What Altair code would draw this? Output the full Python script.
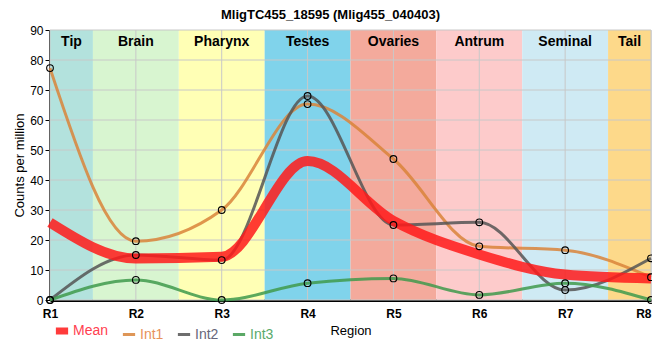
import altair as alt
import pandas as pd

regions = ["R1", "R2", "R3", "R4", "R5", "R6", "R7", "R8"]
series_names = ["Mean", "Int1", "Int2", "Int3"]
mean_vals = [25.8, 13.8, 14.4, 46.3, 26.4, 15.2, 8.5, 7.2]
int1_vals = [77.3, 19.6, 30.0, 65.3, 47.0, 17.9, 16.6, 7.6]
int2_vals = [0.0, 15.0, 13.3, 68.0, 25.0, 25.9, 3.3, 13.9]
int3_vals = [0.0, 6.7, 0.0, 5.6, 7.2, 1.7, 5.6, 0.0]

band_names = ["Tip", "Brain", "Pharynx", "Testes", "Ovaries", "Antrum", "Seminal", "Tail"]
band_start = [0, 0.5, 1.5, 2.5, 3.5, 4.5, 5.5, 6.5]
band_end = [0.5, 1.5, 2.5, 3.5, 4.5, 5.5, 6.5, 7]
band_colors = ["#b3e2dd", "#d8f5d0", "#ffffb5", "#80d3eb", "#f4aa9c", "#fdcbcb", "#cfeaf4", "#fdd98a"]

series_colors = ["#ff1a1a", "#d9843a", "#555555", "#3f9a4c"]
label_colors = ["#ff4050", "#e8925a", "#66667a", "#5aaa6c"]

y_ticks = list(range(0, 91, 10))
x_ticks = list(range(len(regions)))
y_min, y_max = 0, 90

rows = []
for name, vals in zip(series_names, [mean_vals, int1_vals, int2_vals, int3_vals]):
    for i, v in enumerate(vals):
        rows.append({"series": name, "idx": i, "region": regions[i], "value": v})
df = pd.DataFrame(rows)

bands = pd.DataFrame({
    "band": band_names, "start": band_start, "end": band_end,
    "mid": [(a + b) / 2 for a, b in zip(band_start, band_end)],
    "fillc": band_colors, "y0": y_min, "y1": y_max,
})

xscale = alt.Scale(domain=[0, 7], nice=False, zero=False)
yscale = alt.Scale(domain=[y_min, y_max], nice=False)

x_axis = alt.Axis(values=x_ticks, labelExpr="'R' + (datum.value + 1)", grid=False,
                  ticks=False, labelFontWeight="bold", labelFontSize=12, labelColor="black",
                  labelPadding=8, domainColor="black", domainWidth=3, labelOverlap=False,
                  labelFlush=False,
                  labelAlign=alt.expr("datum.value == 7 ? 'right' : 'center'"),
                  title="Region", titleFontSize=13, titleFontWeight="normal",
                  titleColor="black", titlePadding=5)
y_axis = alt.Axis(values=y_ticks, grid=False, tickSize=5, tickColor="black",
                  labelFontSize=12, labelColor="black", labelPadding=2, labelOverlap=False,
                  labelFlush=False, domainColor="black", domainWidth=3,
                  title="Counts per million", titleFontSize=13,
                  titleFontWeight="normal", titleColor="black", titlePadding=3)

X = lambda f: alt.X(f, scale=xscale, axis=x_axis, title="Region")
Y = lambda f: alt.Y(f, scale=yscale, axis=y_axis, title="Counts per million")

band_layer = alt.Chart(bands).mark_rect().encode(
    x=X("start:Q"), x2="end:Q", y=Y("y0:Q"), y2="y1:Q",
    fill=alt.Fill("fillc:N", scale=None),
)

vgrid = alt.Chart(pd.DataFrame({"t": x_ticks})).mark_rule(color="#c8c8c8", strokeWidth=1).encode(
    x=X("t:Q"))
hgrid = alt.Chart(pd.DataFrame({"t": y_ticks})).mark_rule(color="#c8c8c8", strokeWidth=1).encode(
    y=Y("t:Q"))

color_expr = " : ".join(f"datum.value == '{n}' ? '{c}'" for n, c in zip(series_names, label_colors)) + " : 'black'"

legend = alt.Legend(orient="none", legendX=5, legendY=294, direction="horizontal",
                    title=None, symbolType="stroke", symbolSize=150,
                    symbolStrokeWidth=alt.expr("datum.value == 'Mean' ? 7 : 3"),
                    symbolOpacity=0.85,
                    labelColor=alt.expr(color_expr), labelFontSize=14,
                    labelOffset=4, columnPadding=7)
color_enc = alt.Color("series:N", scale=alt.Scale(domain=series_names, range=series_colors),
                      legend=legend)

int_lines = alt.Chart(df).transform_filter("datum.series != 'Mean'").mark_line(
    interpolate="monotone", opacity=0.85, strokeWidth=3
).encode(x=X("idx:Q"), y=Y("value:Q"), color=color_enc)

mean_line = alt.Chart(df).transform_filter("datum.series == 'Mean'").mark_line(
    interpolate="monotone", opacity=0.85, strokeWidth=10
).encode(x=X("idx:Q"), y=Y("value:Q"), color=color_enc)

points = alt.Chart(df).transform_filter("datum.series != 'Mean'").mark_point(
    shape="circle", filled=False, color="black", size=45, strokeWidth=1.1, opacity=1
).encode(x=X("idx:Q"), y=Y("value:Q"))

band_text = alt.Chart(bands).mark_text(fontSize=14, fontWeight="bold", color="black",
                                        baseline="middle").encode(
    x=X("mid:Q"), y=alt.value(12), text="band:N",
)

chart = alt.layer(band_layer, vgrid, hgrid, int_lines, mean_line, points, band_text).properties(
    width=601, height=270,
    title=alt.TitleParams("MligTC455_18595 (Mlig455_040403)", fontSize=13, fontWeight="bold",
                          color="black", offset=2, dx=-20),
    autosize=alt.AutoSizeParams(type="none"),
    padding={"left": 42, "top": 22, "right": 1, "bottom": 48},
).configure_view(stroke="black", strokeWidth=2).configure(
    font="Liberation Sans"
)

chart.save("out.html", embed_options={"renderer": "svg", "actions": False})
